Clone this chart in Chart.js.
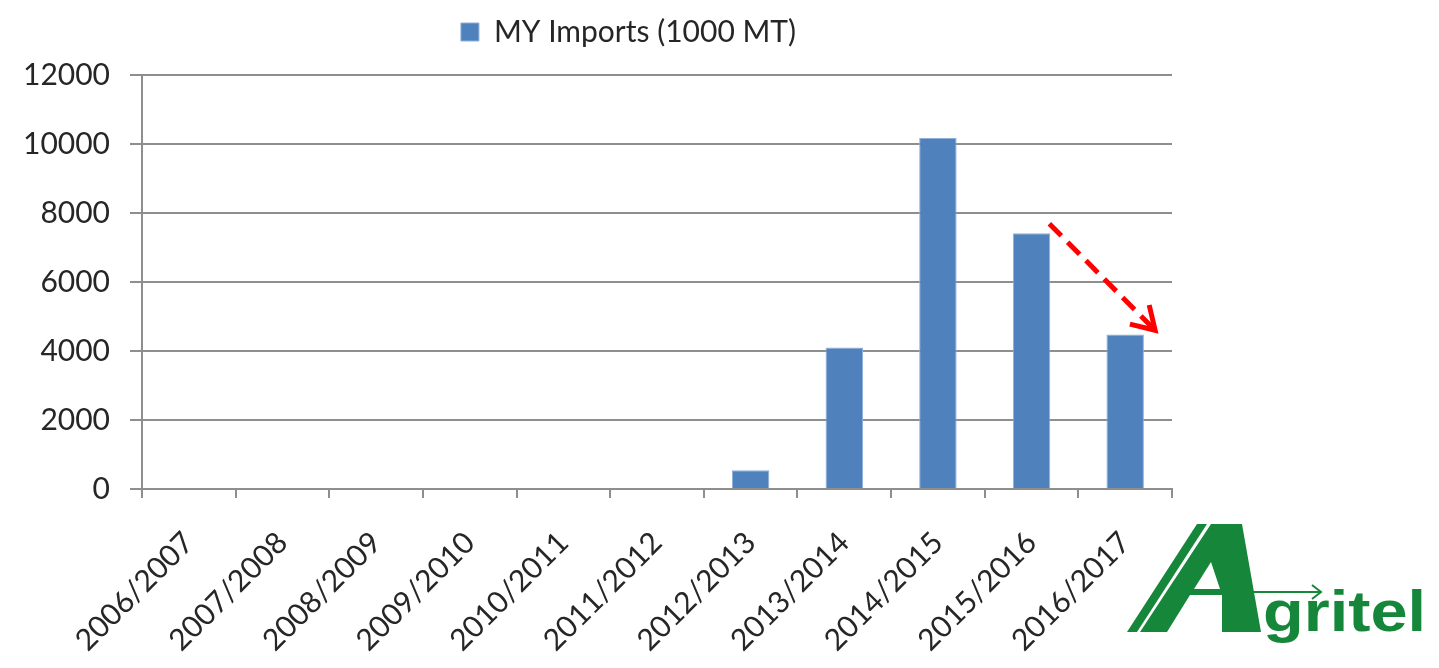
<!DOCTYPE html>
<html>
<head>
<meta charset="utf-8">
<script src="https://cdn.jsdelivr.net/npm/chart.js@4.4.0/dist/chart.umd.min.js"></script>
<style>
  body { margin: 0; background: #fff; }
  #wrap { position: absolute; left: 0; top: 0; width: 1257px; height: 668px; }
  #logo { position: absolute; left: 0; top: 0; }
</style>
</head>
<body>
<div id="wrap"><canvas id="grafico_importacoes"></canvas></div>

<!-- logo Agritel -->
<svg id="logo" width="1439" height="668" viewBox="0 0 1439 668">
  <g fill="#16873a">
    <polygon points="1127,632 1137,632 1207,524 1197,524"/>
    <polygon points="1140,632 1211,524 1242,524 1261,632 1222,632 1222,595 1190,595 1167,632"/>
  </g>
  <polygon points="1211,562 1194,589 1220,589" fill="#fff"/>
  <g stroke="#16873a" stroke-width="2" fill="none">
    <line x1="1240" y1="592" x2="1321" y2="592"/>
    <polyline points="1312,585 1321,592 1312,599"/>
  </g>
  <text x="1263" y="631" fill="#16873a" font-family="Liberation Sans, Arial, sans-serif" font-weight="bold"
        font-size="57" textLength="163" lengthAdjust="spacingAndGlyphs">gritel</text>
</svg>

<script>
/* dados do gráfico de importações por ano-safra */
const categorias = [
  '2006/2007', '2007/2008', '2008/2009', '2009/2010', '2010/2011', '2011/2012',
  '2012/2013', '2013/2014', '2014/2015', '2015/2016', '2016/2017'
];
const importacoes = [0, 0, 0, 0, 0, 0, 540, 4100, 10175, 7410, 4480];
const ticks_y = [0, 2000, 4000, 6000, 8000, 10000, 12000];

// seta de tendência (índice da categoria, valor)
const seta_inicio = [9.19, 7690];
const seta_fim = [10.32, 4600];

const fonte = "Lato, 'Open Sans', sans-serif";
const tam_fonte = 30;

const plugin_seta = {
  id: 'seta',
  afterDatasetsDraw(chart) {
    const x = chart.scales.x, y = chart.scales.y;
    const passo = x.getPixelForValue(1) - x.getPixelForValue(0);
    const px = v => x.getPixelForValue(0) + v * passo;
    const x1 = px(seta_inicio[0]), y1 = y.getPixelForValue(seta_inicio[1]);
    const x2 = px(seta_fim[0]), y2 = y.getPixelForValue(seta_fim[1]);
    const ctx = chart.ctx;
    ctx.save();
    ctx.strokeStyle = '#ff0000';
    ctx.lineWidth = 5;
    ctx.setLineDash([17, 9]);
    ctx.beginPath();
    ctx.moveTo(x1, y1);
    ctx.lineTo(x2 - 3, y2 - 3);
    ctx.stroke();
    ctx.setLineDash([]);
    const ang = Math.atan2(y2 - y1, x2 - x1);
    const len = 26;
    ctx.beginPath();
    ctx.moveTo(x2 - len * Math.cos(ang - 0.55), y2 - len * Math.sin(ang - 0.55));
    ctx.lineTo(x2, y2);
    ctx.lineTo(x2 - len * Math.cos(ang + 0.55), y2 - len * Math.sin(ang + 0.55));
    ctx.stroke();
    ctx.restore();
  }
};

// espaço extra abaixo da legenda e legenda um pouco à direita
const plugin_legenda = {
  id: 'ajuste_legenda',
  beforeLayout(chart) {
    const lg = chart.legend;
    if (lg && !lg._ajustado) {
      const fit = lg.fit.bind(lg);
      lg.fit = function () { fit(); this.height += 18; };
      lg._ajustado = true;
    }
  },
  afterLayout(chart) {
    chart.legend.left = 85;
  }
};

const data_importacoes = {
  labels: categorias,
  datasets: [{
    label: 'MY Imports (1000 MT)',
    data: importacoes,
    backgroundColor: '#4f81bd',
    borderColor: '#8eb0d8',
    borderWidth: 1,
    categoryPercentage: 1,
    barPercentage: 0.4
  }]
};

const config_importacoes = {
  type: 'bar',
  data: data_importacoes,
  options: {
    responsive: true,
    maintainAspectRatio: false,
    animation: false,
    layout: { padding: { left: 0, right: 85, top: 7, bottom: 0 } },
    plugins: {
      tooltip: { enabled: false },
      legend: {
        position: 'top',
        labels: {
          boxWidth: 18,
          boxHeight: 18,
          color: '#262626',
          font: { family: fonte, size: tam_fonte }
        }
      }
    },
    scales: {
      x: {
        afterFit(scale) { scale.height = 179; },
        grid: { drawOnChartArea: false, drawTicks: true, tickLength: 9, color: '#8e8e8e', lineWidth: 2 },
        border: { color: '#8e8e8e', width: 2 },
        ticks: {
          maxRotation: 45, minRotation: 45, autoSkip: false, padding: 27,
          color: '#262626', font: { family: fonte, size: tam_fonte }
        }
      },
      y: {
        min: 0, max: 12000,
        afterFit(scale) { scale.width = 142; },
        afterBuildTicks(scale) { scale.ticks = ticks_y.map(v => ({ value: v })); },
        grid: { color: '#8e8e8e', lineWidth: 2, tickLength: 12 },
        border: { color: '#8e8e8e', width: 2 },
        ticks: {
          padding: 20, color: '#262626', font: { family: fonte, size: tam_fonte },
          callback: v => String(v)
        }
      }
    }
  },
  plugins: [plugin_seta, plugin_legenda]
};

const grafico_importacoes = new Chart(
  document.getElementById('grafico_importacoes'),
  config_importacoes
);
</script>
</body>
</html>
